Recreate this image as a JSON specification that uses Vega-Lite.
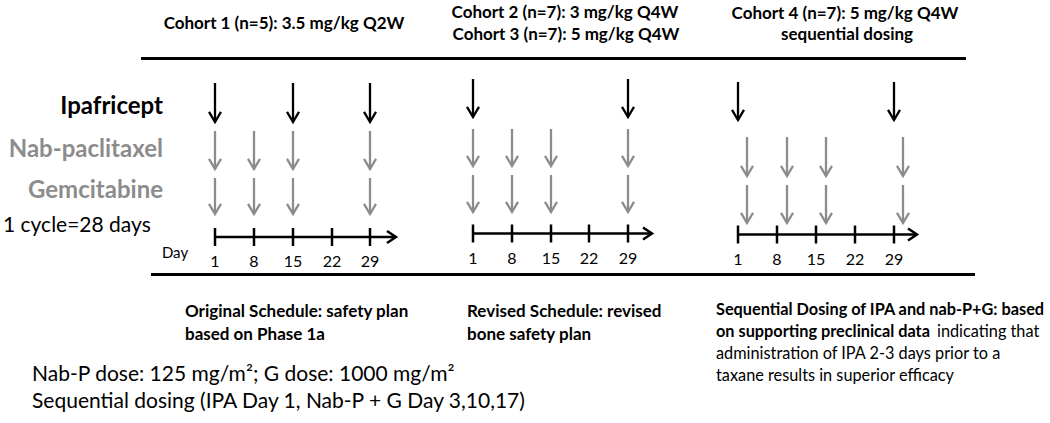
{
  "$schema": "https://vega.github.io/schema/vega-lite/v6.json",
  "width": 1050,
  "height": 423,
  "padding": 0,
  "autosize": {"type": "fit", "contains": "padding"},
  "background": "white",
  "config": {"view": {"stroke": null}, "font": "Lato"},
  "datasets": {
    "separators": [
      {"line": "top", "x": 141, "x2": 966, "y": 58.5},
      {"line": "bottom", "x": 151, "x2": 975, "y": 274.5}
    ],
    "timelines": [
      {"cohort": "Cohort 1", "x": 215, "x2": 396, "y": 237},
      {"cohort": "Cohort 2/3", "x": 473, "x2": 652, "y": 233.5},
      {"cohort": "Cohort 4", "x": 738, "x2": 917, "y": 234.5}
    ],
    "ticks": [
      {"cohort": "Cohort 1", "day": 1, "x": 215, "y": 237},
      {"cohort": "Cohort 1", "day": 8, "x": 254, "y": 237},
      {"cohort": "Cohort 1", "day": 15, "x": 293, "y": 237},
      {"cohort": "Cohort 1", "day": 22, "x": 332, "y": 237},
      {"cohort": "Cohort 1", "day": 29, "x": 370, "y": 237},
      {"cohort": "Cohort 2/3", "day": 1, "x": 473, "y": 233.5},
      {"cohort": "Cohort 2/3", "day": 8, "x": 512, "y": 233.5},
      {"cohort": "Cohort 2/3", "day": 15, "x": 551, "y": 233.5},
      {"cohort": "Cohort 2/3", "day": 22, "x": 589, "y": 233.5},
      {"cohort": "Cohort 2/3", "day": 29, "x": 628, "y": 233.5},
      {"cohort": "Cohort 4", "day": 1, "x": 738, "y": 234.5},
      {"cohort": "Cohort 4", "day": 8, "x": 777, "y": 234.5},
      {"cohort": "Cohort 4", "day": 15, "x": 816, "y": 234.5},
      {"cohort": "Cohort 4", "day": 22, "x": 855, "y": 234.5},
      {"cohort": "Cohort 4", "day": 29, "x": 894, "y": 234.5}
    ],
    "arrows": [
      {"drug": "Ipafricept", "cohort": "Cohort 1", "day": 1, "x": 215, "y": 83, "y2": 122},
      {"drug": "Ipafricept", "cohort": "Cohort 1", "day": 15, "x": 293, "y": 83, "y2": 122},
      {"drug": "Ipafricept", "cohort": "Cohort 1", "day": 29, "x": 370, "y": 83, "y2": 122},
      {"drug": "Ipafricept", "cohort": "Cohort 2/3", "day": 1, "x": 473, "y": 79, "y2": 117},
      {"drug": "Ipafricept", "cohort": "Cohort 2/3", "day": 29, "x": 628, "y": 79, "y2": 117},
      {"drug": "Ipafricept", "cohort": "Cohort 4", "day": 1, "x": 738, "y": 82, "y2": 120},
      {"drug": "Ipafricept", "cohort": "Cohort 4", "day": 29, "x": 894, "y": 82, "y2": 120},
      {"drug": "Nab-paclitaxel", "cohort": "Cohort 1", "day": 1, "x": 215, "y": 131, "y2": 169},
      {"drug": "Nab-paclitaxel", "cohort": "Cohort 1", "day": 8, "x": 254, "y": 131, "y2": 169},
      {"drug": "Nab-paclitaxel", "cohort": "Cohort 1", "day": 15, "x": 293, "y": 131, "y2": 169},
      {"drug": "Nab-paclitaxel", "cohort": "Cohort 1", "day": 29, "x": 370, "y": 131, "y2": 169},
      {"drug": "Nab-paclitaxel", "cohort": "Cohort 2/3", "day": 1, "x": 473, "y": 129, "y2": 166},
      {"drug": "Nab-paclitaxel", "cohort": "Cohort 2/3", "day": 8, "x": 512, "y": 129, "y2": 166},
      {"drug": "Nab-paclitaxel", "cohort": "Cohort 2/3", "day": 15, "x": 551, "y": 129, "y2": 166},
      {"drug": "Nab-paclitaxel", "cohort": "Cohort 2/3", "day": 29, "x": 628, "y": 129, "y2": 166},
      {"drug": "Nab-paclitaxel", "cohort": "Cohort 4", "day": 3, "x": 747, "y": 137, "y2": 176},
      {"drug": "Nab-paclitaxel", "cohort": "Cohort 4", "day": 10, "x": 787, "y": 137, "y2": 176},
      {"drug": "Nab-paclitaxel", "cohort": "Cohort 4", "day": 17, "x": 826, "y": 137, "y2": 176},
      {"drug": "Nab-paclitaxel", "cohort": "Cohort 4", "day": 31, "x": 903, "y": 137, "y2": 176},
      {"drug": "Gemcitabine", "cohort": "Cohort 1", "day": 1, "x": 215, "y": 178, "y2": 214},
      {"drug": "Gemcitabine", "cohort": "Cohort 1", "day": 8, "x": 254, "y": 178, "y2": 214},
      {"drug": "Gemcitabine", "cohort": "Cohort 1", "day": 15, "x": 293, "y": 178, "y2": 214},
      {"drug": "Gemcitabine", "cohort": "Cohort 1", "day": 29, "x": 370, "y": 178, "y2": 214},
      {"drug": "Gemcitabine", "cohort": "Cohort 2/3", "day": 1, "x": 473, "y": 175, "y2": 212},
      {"drug": "Gemcitabine", "cohort": "Cohort 2/3", "day": 8, "x": 512, "y": 175, "y2": 212},
      {"drug": "Gemcitabine", "cohort": "Cohort 2/3", "day": 15, "x": 551, "y": 175, "y2": 212},
      {"drug": "Gemcitabine", "cohort": "Cohort 2/3", "day": 29, "x": 628, "y": 175, "y2": 212},
      {"drug": "Gemcitabine", "cohort": "Cohort 4", "day": 3, "x": 747, "y": 185, "y2": 223},
      {"drug": "Gemcitabine", "cohort": "Cohort 4", "day": 10, "x": 787, "y": 185, "y2": 223},
      {"drug": "Gemcitabine", "cohort": "Cohort 4", "day": 17, "x": 826, "y": 185, "y2": 223},
      {"drug": "Gemcitabine", "cohort": "Cohort 4", "day": 31, "x": 903, "y": 185, "y2": 223}
    ]
  },
  "layer": [
    {
      "data": {"name": "separators"},
      "mark": {"type": "rule", "color": "black", "strokeWidth": 3},
      "encoding": {
        "x": {"field": "x", "type": "quantitative", "scale": {"domain": [0, 1050], "nice": false, "zero": false}, "axis": null},
        "x2": {"field": "x2"},
        "y": {"field": "y", "type": "quantitative", "scale": {"domain": [0, 423], "nice": false, "zero": false, "reverse": true}, "axis": null}
      }
    },
    {
      "data": {"name": "timelines"},
      "mark": {"type": "rule", "color": "black", "strokeWidth": 2.5},
      "encoding": {
        "x": {"field": "x", "type": "quantitative"},
        "x2": {"field": "x2"},
        "y": {"field": "y", "type": "quantitative"}
      }
    },
    {
      "data": {"name": "timelines"},
      "mark": {"type": "point", "shape": "M-1.5,-1L0,0L-1.5,1", "filled": false, "color": "black", "strokeWidth": 2.5, "size": 144, "opacity": 1, "strokeJoin": "miter"},
      "encoding": {
        "x": {"field": "x2", "type": "quantitative"},
        "y": {"field": "y", "type": "quantitative"}
      }
    },
    {
      "data": {"name": "ticks"},
      "mark": {"type": "point", "shape": "M0,-1L0,1", "filled": false, "color": "black", "strokeWidth": 2.5, "size": 324, "opacity": 1},
      "encoding": {
        "x": {"field": "x", "type": "quantitative"},
        "y": {"field": "y", "type": "quantitative"}
      }
    },
    {
      "data": {"name": "ticks"},
      "mark": {"type": "text", "fontSize": 16, "color": "black", "baseline": "middle", "align": "center", "dy": 25},
      "encoding": {
        "x": {"field": "x", "type": "quantitative"},
        "y": {"field": "y", "type": "quantitative"},
        "text": {"field": "day", "type": "nominal"}
      }
    },
    {
      "data": {"name": "arrows"},
      "mark": {"type": "rule", "strokeWidth": 2.3},
      "encoding": {
        "x": {"field": "x", "type": "quantitative"},
        "y": {"field": "y", "type": "quantitative"},
        "y2": {"field": "y2"},
        "color": {"field": "drug", "type": "nominal", "scale": {"domain": ["Ipafricept", "Nab-paclitaxel", "Gemcitabine"], "range": ["#000000", "#8c8c8c", "#8c8c8c"]}, "legend": null}
      }
    },
    {
      "data": {"name": "arrows"},
      "mark": {"type": "point", "shape": "M-1,-1.7L0,0L1,-1.7", "filled": false, "strokeWidth": 2.3, "size": 144, "opacity": 1, "strokeJoin": "miter"},
      "encoding": {
        "x": {"field": "x", "type": "quantitative"},
        "y": {"field": "y2", "type": "quantitative"},
        "color": {"field": "drug", "type": "nominal", "legend": null}
      }
    },
    {
      "data": {"values": [
        {"text": "Cohort 1 (n=5): 3.5 mg/kg Q2W", "x": 284, "y": 24},
        {"text": "Cohort 2 (n=7): 3 mg/kg Q4W", "x": 565, "y": 13},
        {"text": "Cohort 3 (n=7): 5 mg/kg Q4W", "x": 566, "y": 35},
        {"text": "Cohort 4 (n=7): 5 mg/kg Q4W", "x": 845, "y": 14},
        {"text": "sequential dosing", "x": 847, "y": 35}
      ]},
      "mark": {"type": "text", "fontSize": 17, "fontWeight": "bold", "color": "black", "align": "center", "baseline": "middle"},
      "encoding": {
        "x": {"field": "x", "type": "quantitative"},
        "y": {"field": "y", "type": "quantitative"},
        "text": {"field": "text"}
      }
    },
    {
      "data": {"values": [{"text": "Ipafricept", "x": 163, "y": 107}]},
      "mark": {"type": "text", "fontSize": 24, "fontWeight": "bold", "color": "black", "align": "right", "baseline": "middle"},
      "encoding": {
        "x": {"field": "x", "type": "quantitative"},
        "y": {"field": "y", "type": "quantitative"},
        "text": {"field": "text"}
      }
    },
    {
      "data": {"values": [{"text": "Nab-paclitaxel", "x": 163, "y": 150}, {"text": "Gemcitabine", "x": 163, "y": 191}]},
      "mark": {"type": "text", "fontSize": 24, "fontWeight": "bold", "color": "#8c8c8c", "align": "right", "baseline": "middle"},
      "encoding": {
        "x": {"field": "x", "type": "quantitative"},
        "y": {"field": "y", "type": "quantitative"},
        "text": {"field": "text"}
      }
    },
    {
      "data": {"values": [
        {"text": "1 cycle=28 days", "x": 3, "y": 226},
        {"text": "Nab-P dose: 125 mg/m²; G dose: 1000 mg/m²", "x": 32, "y": 375},
        {"text": "Sequential dosing (IPA Day 1, Nab-P + G Day 3,10,17)", "x": 32, "y": 402}
      ]},
      "mark": {"type": "text", "fontSize": 21, "color": "black", "align": "left", "baseline": "middle"},
      "encoding": {
        "x": {"field": "x", "type": "quantitative"},
        "y": {"field": "y", "type": "quantitative"},
        "text": {"field": "text"}
      }
    },
    {
      "data": {"values": [{"text": "Day", "x": 175, "y": 253}]},
      "mark": {"type": "text", "fontSize": 15, "color": "black", "align": "center", "baseline": "middle"},
      "encoding": {
        "x": {"field": "x", "type": "quantitative"},
        "y": {"field": "y", "type": "quantitative"},
        "text": {"field": "text"}
      }
    },
    {
      "data": {"values": [
        {"text": "Original Schedule: safety plan", "x": 185, "y": 312},
        {"text": "based on Phase 1a", "x": 185, "y": 335},
        {"text": "Revised Schedule: revised", "x": 467, "y": 312},
        {"text": "bone safety plan", "x": 467, "y": 335}
      ]},
      "mark": {"type": "text", "fontSize": 17, "fontWeight": "bold", "color": "black", "align": "left", "baseline": "middle"},
      "encoding": {
        "x": {"field": "x", "type": "quantitative"},
        "y": {"field": "y", "type": "quantitative"},
        "text": {"field": "text"}
      }
    },
    {
      "data": {"values": [
        {"text": "Sequential Dosing of IPA and nab-P+G: based", "x": 716, "y": 310},
        {"text": "on supporting preclinical data", "x": 716, "y": 332}
      ]},
      "mark": {"type": "text", "fontSize": 16.3, "fontWeight": "bold", "color": "black", "align": "left", "baseline": "middle"},
      "encoding": {
        "x": {"field": "x", "type": "quantitative"},
        "y": {"field": "y", "type": "quantitative"},
        "text": {"field": "text"}
      }
    },
    {
      "data": {"values": [
        {"text": "indicating that", "x": 937, "y": 332},
        {"text": "administration of IPA 2-3 days prior to a", "x": 716, "y": 354},
        {"text": "taxane results in superior efficacy", "x": 716, "y": 376}
      ]},
      "mark": {"type": "text", "fontSize": 16.3, "color": "black", "align": "left", "baseline": "middle"},
      "encoding": {
        "x": {"field": "x", "type": "quantitative"},
        "y": {"field": "y", "type": "quantitative"},
        "text": {"field": "text"}
      }
    }
  ]
}
